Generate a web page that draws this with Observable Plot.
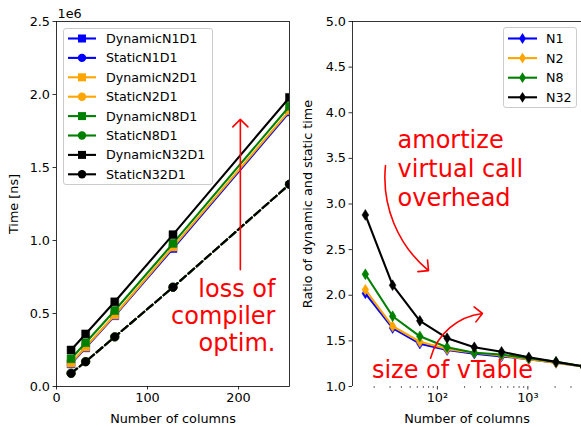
<!DOCTYPE html>
<html>
<head>
<meta charset="utf-8">
<script src="https://cdn.jsdelivr.net/npm/d3@7"></script>
<script src="https://cdn.jsdelivr.net/npm/@observablehq/plot@0.6"></script>
<style>
  html, body { margin: 0; padding: 0; background: white; }
  #root { position: relative; width: 581px; height: 427px; overflow: hidden; background: white; font-family: "DejaVu Sans", sans-serif; }
  .panel { position: absolute; top: 0; }
  .legend { position: absolute; background: rgba(255,255,255,0.8); border: 1px solid #cccccc; border-radius: 3px; box-sizing: border-box; }
</style>
</head>
<body>
<div id="root">
  <div id="left" class="panel" style="left:0;width:290px;height:427px"></div>
  <div id="right" class="panel" style="left:290px;width:291px;height:427px"></div>
</div>
<script>
// ---------- data ----------
const seriesNames = ["N1", "N2", "N8", "N32"];
const seriesColors = ["blue", "orange", "green", "black"];

// left panel: time [ns] vs number of columns
const timeCols = [16, 32, 64, 128, 256];
const dynamicN1 = [0.155e6, 0.265e6, 0.485e6, 0.945e6, 1.88e6];
const dynamicN2 = [0.16e6, 0.27e6, 0.49e6, 0.955e6, 1.89e6];
const dynamicN8 = [0.19e6, 0.30e6, 0.52e6, 0.98e6, 1.92e6];
const dynamicN32 = [0.25e6, 0.36e6, 0.58e6, 1.04e6, 1.98e6];
const staticN1 = [0.09e6, 0.17e6, 0.34e6, 0.68e6, 1.385e6];
const staticN2 = [0.09e6, 0.17e6, 0.34e6, 0.68e6, 1.385e6];
const staticN8 = [0.09e6, 0.17e6, 0.34e6, 0.68e6, 1.385e6];
const staticN32 = [0.09e6, 0.17e6, 0.34e6, 0.68e6, 1.385e6];

// right panel: ratio dynamic / static
const ratioCols = [16, 32, 64, 128, 256, 512, 1024, 2048, 4096];
const ratioN1 = [2.02, 1.64, 1.47, 1.40, 1.36, 1.33, 1.30, 1.26, 1.22];
const ratioN2 = [2.06, 1.66, 1.49, 1.41, 1.37, 1.34, 1.30, 1.26, 1.22];
const ratioN8 = [2.23, 1.77, 1.55, 1.43, 1.37, 1.35, 1.31, 1.27, 1.22];
const ratioN32 = [2.88, 2.11, 1.72, 1.53, 1.43, 1.38, 1.32, 1.27, 1.22];

// ticks
const leftXTicks = [0, 100, 200];
const leftYTicks = [0, 0.5e6, 1.0e6, 1.5e6, 2.0e6, 2.5e6];
const rightYTicks = [1.0, 1.5, 2.0, 2.5, 3.0, 3.5, 4.0, 4.5, 5.0];
const rightXMajor = [100, 1000];
const rightXMajorLabels = ["10²", "10³"];
const rightXMinor = [20, 30, 40, 50, 60, 70, 80, 90, 200, 300, 400, 500, 600, 700, 800, 900, 2000, 3000];

// annotations (data coordinates)
const leftNote = [{x: 240.6, y: 0.486e6, text: "loss of\ncompiler\noptim."}];
const leftArrow = [{x1: 202, y1: 0.8e6, x2: 202, y2: 1.83e6}];
const amortizeNote = [{x: 36.3, y: 3.40, text: "amortize\nvirtual call\noverhead"}];
const vtableNote = [{x: 147, y: 1.175, text: "size of vTable"}];
const amortizeArrow = [{x1: 26.7, y1: 3.42, x2: 79.8, y2: 2.27}];
const vtableArrow = [{x1: 84, y1: 1.31, x2: 315, y2: 1.80}];

// ---------- build ----------
const dyn = [dynamicN1, dynamicN2, dynamicN8, dynamicN32];
const sta = [staticN1, staticN2, staticN8, staticN32];
const rat = [ratioN1, ratioN2, ratioN8, ratioN32];

const thinDiamond = {
  draw(context, size) {
    const r = Math.sqrt(size / Math.PI);
    const h = r * 1.2, w = r * 0.75;
    context.moveTo(0, -h);
    context.lineTo(w, 0);
    context.lineTo(0, h);
    context.lineTo(-w, 0);
    context.closePath();
  }
};

const LW = 2.1;
const FS = 12.8;
const NOTE_FS = 24;
const baseStyle = {fontFamily: "DejaVu Sans", fontSize: FS + "px", color: "black", background: "white"};

const leftMarks = [];
seriesNames.forEach((n, i) => {
  const c = seriesColors[i];
  const d = timeCols.map((x, j) => ({x, y: dyn[i][j]}));
  const s = timeCols.map((x, j) => ({x, y: sta[i][j]}));
  leftMarks.push(
    Plot.line(d, {x: "x", y: "y", stroke: c, strokeWidth: LW, clip: true}),
    Plot.dot(d, {x: "x", y: "y", symbol: "square", r: 4.5, fill: c, stroke: c, strokeWidth: 0.5, clip: true}),
    Plot.line(s, {x: "x", y: "y", stroke: c, strokeWidth: LW, strokeDasharray: "7.7,3.3", clip: true}),
    Plot.dot(s, {x: "x", y: "y", symbol: "circle", r: 4.2, fill: c, stroke: c, strokeWidth: 0.5, clip: true})
  );
});

const left = Plot.plot({
  width: 290, height: 427,
  marginLeft: 56, marginRight: 1, marginTop: 21, marginBottom: 41,
  style: baseStyle,
  x: {domain: [0, 256]},
  y: {domain: [0, 2.5e6]},
  marks: [
    Plot.axisX(leftXTicks, {tickSize: 3.5, tickPadding: 3, strokeWidth: 0.8, fontSize: FS, tickFormat: d => String(d),
      label: "Number of columns", labelAnchor: "center", labelArrow: "none", labelOffset: 36}),
    Plot.axisY(leftYTicks, {tickSize: 3.5, tickPadding: 3, strokeWidth: 0.8, fontSize: FS, tickFormat: d => (d / 1e6).toFixed(1),
      label: "Time [ns]", labelAnchor: "center", labelArrow: "none", labelOffset: 48}),
    Plot.text(["1e6"], {frameAnchor: "top-left", textAnchor: "start", lineAnchor: "bottom", dx: 1, dy: -4, fontSize: FS}),
    ...leftMarks,
    Plot.arrow(leftArrow, {x1: "x1", y1: "y1", x2: "x2", y2: "y2", stroke: "red", strokeWidth: 1.6, headAngle: 90, headLength: 10}),
    Plot.text(leftNote, {x: "x", y: "y", text: "text", textAnchor: "end", lineAnchor: "middle", fill: "red", fontSize: NOTE_FS, lineHeight: 1.13}),
    Plot.frame({stroke: "black", strokeWidth: 0.8})
  ]
});
document.getElementById("left").append(left);

const rightMarks = [];
seriesNames.forEach((n, i) => {
  const c = seriesColors[i];
  const d = ratioCols.map((x, j) => ({x, y: rat[i][j]}));
  rightMarks.push(
    Plot.line(d, {x: "x", y: "y", stroke: c, strokeWidth: LW, clip: true}),
    Plot.dot(d, {x: "x", y: "y", symbol: thinDiamond, r: 4.5, fill: c, stroke: c, strokeWidth: 0.5, clip: true})
  );
});

const right = Plot.plot({
  width: 291, height: 427,
  marginLeft: 62, marginRight: 0, marginTop: 21, marginBottom: 41,
  style: {...baseStyle, overflow: "hidden"},
  x: {type: "log", domain: [11.53, 3917]},
  y: {domain: [1, 5]},
  marks: [
    Plot.axisX(rightXMinor, {tickSize: 2, strokeWidth: 0.6, tickFormat: () => "", label: null}),
    Plot.axisX(rightXMajor, {tickSize: 3.5, tickPadding: 3, strokeWidth: 0.8, fontSize: FS,
      tickFormat: d => rightXMajorLabels[rightXMajor.indexOf(d)],
      label: "Number of columns", labelAnchor: "center", labelArrow: "none", labelOffset: 36}),
    Plot.axisY(rightYTicks, {tickSize: 3.5, tickPadding: 3, strokeWidth: 0.8, fontSize: FS, tickFormat: d => d.toFixed(1),
      label: "Ratio of dynamic and static time", labelAnchor: "center", labelArrow: "none", labelOffset: 50}),
    ...rightMarks,
    Plot.arrow(amortizeArrow, {x1: "x1", y1: "y1", x2: "x2", y2: "y2", bend: -28, stroke: "red", strokeWidth: 1.6, headAngle: 90, headLength: 10}),
    Plot.arrow(vtableArrow, {x1: "x1", y1: "y1", x2: "x2", y2: "y2", bend: 34, stroke: "red", strokeWidth: 1.6, headAngle: 90, headLength: 10}),
    Plot.text(amortizeNote, {x: "x", y: "y", text: "text", textAnchor: "start", lineAnchor: "middle", fill: "red", fontSize: NOTE_FS, lineHeight: 1.2}),
    Plot.text(vtableNote, {x: "x", y: "y", text: "text", textAnchor: "middle", lineAnchor: "middle", fill: "red", fontSize: NOTE_FS}),
    Plot.ruleY([5], {stroke: "black", strokeWidth: 0.8}),
    Plot.ruleX([11.53], {stroke: "black", strokeWidth: 0.8})
  ]
});
document.getElementById("right").append(right);

// ---------- legends ----------
function makeLegend(entries, box, opts) {
  const div = d3.select("#root").append("div").attr("class", "legend")
    .style("left", box.left + "px").style("top", box.top + "px")
    .style("width", box.width + "px").style("height", box.height + "px");
  const svg = div.append("svg").attr("width", box.width - 2).attr("height", box.height - 2)
    .style("position", "absolute").style("left", "0px").style("top", "0px");
  entries.forEach((e, i) => {
    const y = opts.y0 + i * opts.dy;
    const g = svg.append("g").attr("transform", `translate(0,${y})`);
    g.append("line").attr("x1", opts.hx1).attr("x2", opts.hx2).attr("y1", 0).attr("y2", 0)
      .attr("stroke", e.color).attr("stroke-width", LW);
    const mx = (opts.hx1 + opts.hx2) / 2;
    if (e.symbol === "square") {
      g.append("rect").attr("x", mx - 4).attr("y", -4).attr("width", 8).attr("height", 8).attr("fill", e.color);
    } else if (e.symbol === "circle") {
      g.append("circle").attr("cx", mx).attr("cy", 0).attr("r", 4.2).attr("fill", e.color);
    } else {
      g.append("path").attr("d", `M${mx},-5.4L${mx + 3.4},0L${mx},5.4L${mx - 3.4},0Z`).attr("fill", e.color);
    }
    g.append("text").attr("x", opts.tx).attr("y", 0).attr("dy", "0.35em")
      .attr("font-family", "DejaVu Sans").attr("font-size", opts.fs).attr("fill", "black").text(e.label);
  });
}

const leftEntries = [];
seriesNames.forEach((n, i) => {
  leftEntries.push({label: `Dynamic${n}D1`, color: seriesColors[i], symbol: "square"});
  leftEntries.push({label: `Static${n}D1`, color: seriesColors[i], symbol: "circle"});
});
makeLegend(leftEntries, {left: 63, top: 28, width: 150, height: 157},
  {y0: 9.5, dy: 19.4, hx1: 4, hx2: 32, tx: 42, fs: 12.7});

const rightEntries = seriesNames.map((n, i) => ({label: n, color: seriesColors[i], symbol: "diamond"}));
makeLegend(rightEntries, {left: 503, top: 27, width: 74, height: 81},
  {y0: 10.5, dy: 19.6, hx1: 4, hx2: 33, tx: 42, fs: 12.7});
</script>
</body>
</html>
